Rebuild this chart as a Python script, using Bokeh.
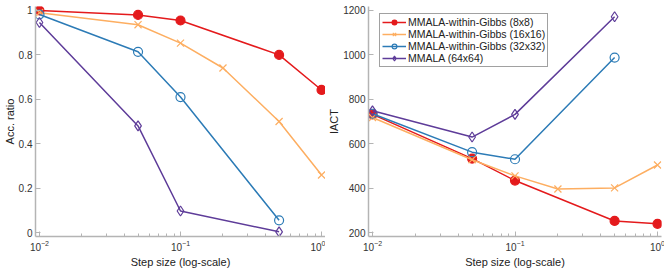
from bokeh.plotting import figure
from bokeh.layouts import row
from bokeh.models import (Range1d, FixedTicker, Legend, LegendItem,
                          CustomJSTickFormatter)
from bokeh.embed import file_html
from bokeh.resources import INLINE

# ---------------- data ----------------
series_names = ["MMALA-within-Gibbs (8x8)", "MMALA-within-Gibbs (16x16)",
                "MMALA-within-Gibbs (32x32)", "MMALA (64x64)"]

step_8 = [0.01, 0.05, 0.1, 0.5, 1.0]
acc_8 = [1.0, 0.98, 0.955, 0.80, 0.642]
iact_8 = [732, 533, 434, 252, 239]

step_16 = [0.01, 0.05, 0.1, 0.2, 0.5, 1.0]
acc_16 = [0.99, 0.936, 0.853, 0.741, 0.50, 0.259]
iact_16 = [718, 528, 455, 396, 401, 504]

step_32 = [0.01, 0.05, 0.1, 0.5]
acc_32 = [0.982, 0.814, 0.61, 0.055]
iact_32 = [735, 562, 530, 988]

step_64 = [0.01, 0.05, 0.1, 0.5]
acc_64 = [0.946, 0.48, 0.097, 0.003]
iact_64 = [748, 630, 732, 1172]

acc_ticks = [0, 0.2, 0.4, 0.6, 0.8, 1.0]
iact_ticks = [200, 400, 600, 800, 1000, 1200]

steps = [step_8, step_16, step_32, step_64]
accs = [acc_8, acc_16, acc_32, acc_64]
iacts = [iact_8, iact_16, iact_32, iact_64]

COLORS = ["#e41a1c", "#fdae61", "#2c7bb6", "#5e3c99"]
MARKERS = ["circle", "x", "circle", "diamond"]
SIZES = [9, 10, 9, 10]
FILLED = [True, False, False, False]
FONT = "Liberation Sans"
AXIS_COL = "#b4b4b4"
TEXT_COL = "#333333"


def make_fig(y_lo, y_hi, ypad, ticks, ylabel, frame_w, xpad, bl, br, fmt):
    p = figure(x_axis_type="log",
               x_range=Range1d(10 ** (-2 - xpad), 10 ** (0 + xpad)),
               y_range=Range1d(y_lo - ypad, y_hi + ypad),
               frame_width=frame_w, frame_height=230,
               min_border_left=bl, min_border_right=br,
               min_border_top=6, min_border_bottom=35,
               output_backend="svg", toolbar_location=None)
    p.outline_line_color = None
    p.grid.visible = False
    p.background_fill_color = "white"
    p.border_fill_color = "white"

    xa = p.xaxis[0]
    ya = p.yaxis[0]
    ya.ticker = FixedTicker(ticks=ticks, minor_ticks=[])
    ya.formatter = CustomJSTickFormatter(code=fmt)
    for ax in (xa, ya):
        ax.axis_line_color = AXIS_COL
        ax.axis_line_width = 1.5
        ax.major_tick_line_color = AXIS_COL
        ax.minor_tick_line_color = AXIS_COL
        ax.major_tick_in = 5
        ax.major_tick_out = 0
        ax.minor_tick_in = 3
        ax.minor_tick_out = 0
        ax.major_label_text_font = FONT
        ax.major_label_text_font_size = "10px"
        ax.major_label_text_color = TEXT_COL
        ax.axis_label_text_font = FONT
        ax.axis_label_text_font_size = "11px"
        ax.axis_label_text_font_style = "normal"
        ax.axis_label_text_color = "#222222"
    xa.axis_label = "Step size (log-scale)"
    ya.axis_label = ylabel
    xa.major_label_standoff = 3
    ya.major_label_standoff = 3
    xa.axis_label_standoff = 2
    ya.axis_label_standoff = 0
    return p


p1 = make_fig(0, 1, 0.018, acc_ticks, "Acc. ratio", 290, 0.028, 0, 0,
              "return String(Math.round(tick*10)/10)")
p2 = make_fig(200, 1200, 18, iact_ticks, "IACT", 293, 0.028, 0, 5,
              "return String(tick)")

for p, ys in ((p1, accs), (p2, iacts)):
    items = []
    for i in range(4):
        ln = p.line(steps[i], ys[i], line_color=COLORS[i], line_width=1.5)
        sc = p.scatter(steps[i], ys[i], marker=MARKERS[i], size=SIZES[i],
                       line_color=COLORS[i], line_width=1.2,
                       fill_color=COLORS[i] if FILLED[i] else None)
        items.append(LegendItem(label=series_names[i], renderers=[ln, sc]))
    if p is p2:
        legend = Legend(items=items, location=(11, 169))
        legend.label_text_font = FONT
        legend.label_text_font_size = "10.5px"
        legend.label_text_color = "#222222"
        legend.border_line_color = "#444444"
        legend.border_line_width = 1
        legend.background_fill_color = "white"
        legend.background_fill_alpha = 1
        legend.padding = 2
        legend.spacing = 0
        legend.margin = 0
        legend.glyph_width = 24
        legend.glyph_height = 12
        legend.label_height = 12
        legend.label_standoff = 2
        p.add_layout(legend)

layout = row(p1, p2)
open("out.html", "w").write(file_html(layout, INLINE))
